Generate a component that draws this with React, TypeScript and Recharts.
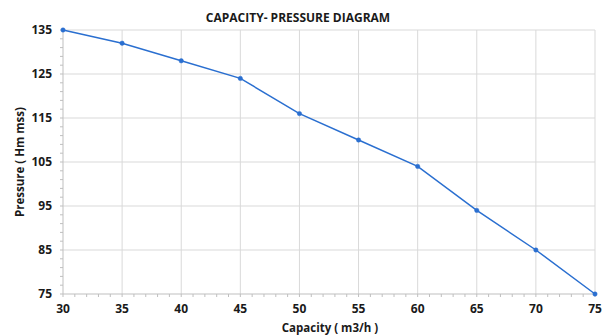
import React from 'react';
import { LineChart, Line, XAxis, YAxis, ReferenceLine, Label } from 'recharts';

const capacity = [30, 35, 40, 45, 50, 55, 60, 65, 70, 75];
const pressure = [135, 132, 128, 124, 116, 110, 104, 94, 85, 75];
const xMajorTicks = [30, 35, 40, 45, 50, 55, 60, 65, 70, 75];
const yMajorTicks = [75, 85, 95, 105, 115, 125, 135];
const xMinorStep = 1;
const yMinorStep = 2;

const data = capacity.map((c, i) => ({ capacity: c, pressure: pressure[i] }));

const range = (a: number, b: number, s: number) => {
  const out: number[] = [];
  for (let v = a; v <= b + 1e-9; v += s) out.push(v);
  return out;
};
const xTicks = range(30, 75, xMinorStep);
const yTicks = range(75, 135, yMinorStep);

const FONT = '"Open Sans", sans-serif';
const GRID = '#d9d9d9';
const AXIS = '#bfbfbf';
const BLUE = '#2a6fd0';

const XTick = (props: any) => {
  const { x, y, payload } = props;
  if (!xMajorTicks.includes(payload.value)) return <g />;
  return (
    <text x={x} y={y} dy={14} textAnchor="middle" fontFamily={FONT} fontWeight={700} fontSize={12} fill="#1a1a1a">
      {payload.value}
    </text>
  );
};

const YTick = (props: any) => {
  const { x, y, payload } = props;
  if (!yMajorTicks.includes(payload.value)) return <g />;
  return (
    <text x={x} y={y} dy={4} textAnchor="end" fontFamily={FONT} fontWeight={700} fontSize={12} fill="#1a1a1a">
      {payload.value}
    </text>
  );
};

export default function App() {
  return (
    <div style={{ position: 'absolute', left: 0, top: 0, width: 614, height: 336, background: '#fff' }}>
      <LineChart width={614} height={336} data={data} margin={{ top: 30, right: 19, bottom: 12, left: 0 }}>
        <XAxis
          type="number"
          dataKey="capacity"
          domain={[30, 75]}
          ticks={xTicks}
          interval={0}
          tick={<XTick />}
          tickSize={3}
          tickLine={{ stroke: AXIS }}
          axisLine={{ stroke: AXIS }}
          height={30}
        >
          <Label
            content={(p: any) => {
              const vb = p.viewBox;
              return (
                <text x={330} y={vb.y + 38} textAnchor="middle" fontFamily={FONT} fontWeight={700} fontSize={11.5} fill="#1a1a1a">
                  Capacity ( m3/h )
                </text>
              );
            }}
          />
        </XAxis>
        <YAxis
          type="number"
          domain={[75, 135]}
          ticks={yTicks}
          interval={0}
          tick={<YTick />}
          tickSize={3}
          tickMargin={8}
          tickLine={{ stroke: AXIS }}
          axisLine={{ stroke: AXIS }}
          width={63}
        >
          <Label
            content={(p: any) => {
              const vb = p.viewBox;
              const cx = 24;
              const cy = vb.y + vb.height / 2;
              return (
                <text x={cx} y={cy} transform={`rotate(-90, ${cx}, ${cy})`} textAnchor="middle" fontFamily={FONT} fontWeight={700} fontSize={11.5} fill="#1a1a1a">
                  Pressure ( Hm mss)
                </text>
              );
            }}
          />
        </YAxis>
        {xMajorTicks.slice(1).map((v) => (
          <ReferenceLine key={'x' + v} x={v} stroke={GRID} strokeWidth={1} />
        ))}
        {yMajorTicks.slice(1).map((v) => (
          <ReferenceLine key={'y' + v} y={v} stroke={GRID} strokeWidth={1} />
        ))}
        <Line
          type="linear"
          dataKey="pressure"
          stroke={BLUE}
          strokeWidth={1.5}
          dot={{ r: 2.2, fill: BLUE, stroke: BLUE, strokeWidth: 0.5 }}
          isAnimationActive={false}
        />
        <text x={298} y={22} textAnchor="middle" fontFamily={FONT} fontWeight={700} fontSize={12} fill="#1a1a1a">
          CAPACITY- PRESSURE DIAGRAM
        </text>
      </LineChart>
    </div>
  );
}
